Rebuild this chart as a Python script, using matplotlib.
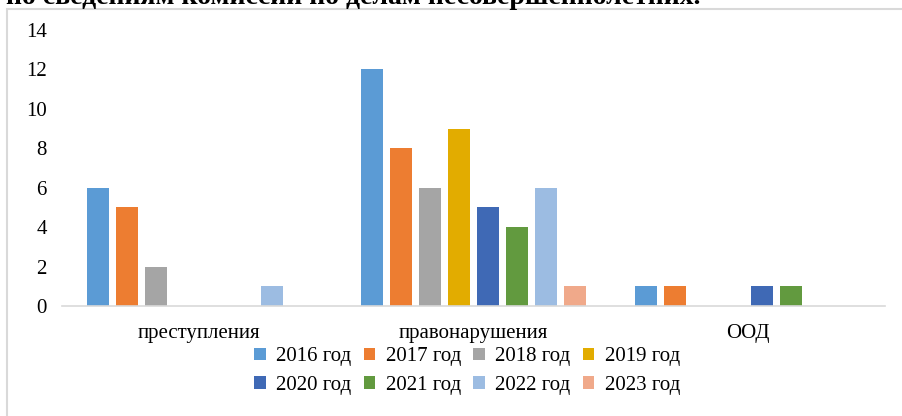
import numpy as np
import matplotlib.pyplot as plt
from matplotlib.patches import Rectangle, Patch

categories = ['преступления', 'правонарушения', 'ООД']
years = ['2016 год', '2017 год', '2018 год', '2019 год',
         '2020 год', '2021 год', '2022 год', '2023 год']
values = [
    [6, 12, 1],   # 2016
    [5, 8, 1],    # 2017
    [2, 6, 0],    # 2018
    [0, 9, 0],    # 2019
    [0, 5, 1],    # 2020
    [0, 4, 1],    # 2021
    [1, 6, 0],    # 2022
    [0, 1, 0],    # 2023
]
colors = ['#5B9BD5', '#ED7D31', '#A5A5A5', '#E2AC00',
          '#3F69B5', '#629A3F', '#9CBCE2', '#F0A98A']

plt.rcParams['font.family'] = ['Liberation Serif', 'DejaVu Serif']
fs = 15

fig = plt.figure(figsize=(9.02, 4.16), dpi=100)
ax = fig.add_axes([62/902, 1 - 306/416, (885-62)/902, (306-30)/416])

x = np.arange(len(categories))
slot = 29/274
width = 22/274
for i, (yr, vals) in enumerate(zip(years, values)):
    ax.bar(x + (i - 3.5)*slot, vals, width=width, color=colors[i], label=yr)

ax.set_xlim(-0.5, 2.5)
ax.set_ylim(0, 14)
ax.set_yticks(range(0, 15, 2))
ax.set_xticks(x)
ax.set_xticklabels(categories)
ax.tick_params(axis='both', length=0, labelsize=fs, colors='black')
ax.tick_params(axis='y', pad=11)
ax.tick_params(axis='x', pad=13)
for s in ['top', 'right', 'left']:
    ax.spines[s].set_visible(False)
ax.spines['bottom'].set_color('#d9d9d9')
ax.spines['bottom'].set_linewidth(1.2)

# legend filled row by row (matplotlib fills columns first)
handles = [Patch(facecolor=c, label=y) for c, y in zip(colors, years)]
order = [0, 4, 1, 5, 2, 6, 3, 7]
fig.legend(handles=[handles[k] for k in order], loc='center',
           bbox_to_anchor=(467/902, 1 - 371/416),
           ncol=4, frameon=False, fontsize=fs, handlelength=0.55, handleheight=0.55,
           handletextpad=0.5, columnspacing=0.6, labelspacing=0.45)

# chart frame
fig.patches.append(Rectangle((7/902, -0.05), 1.0, 1 - 9/416 + 0.05,
                             transform=fig.transFigure, fill=False,
                             edgecolor='#d9d9d9', linewidth=1.5))

# cut-off caption line above the chart
fig.text(700/902, 1 - 4/416, 'по сведениям комиссии по делам несовершеннолетних.',
         ha='right', va='baseline', fontsize=20, fontweight='bold')

fig.savefig('out.png', dpi=100)
